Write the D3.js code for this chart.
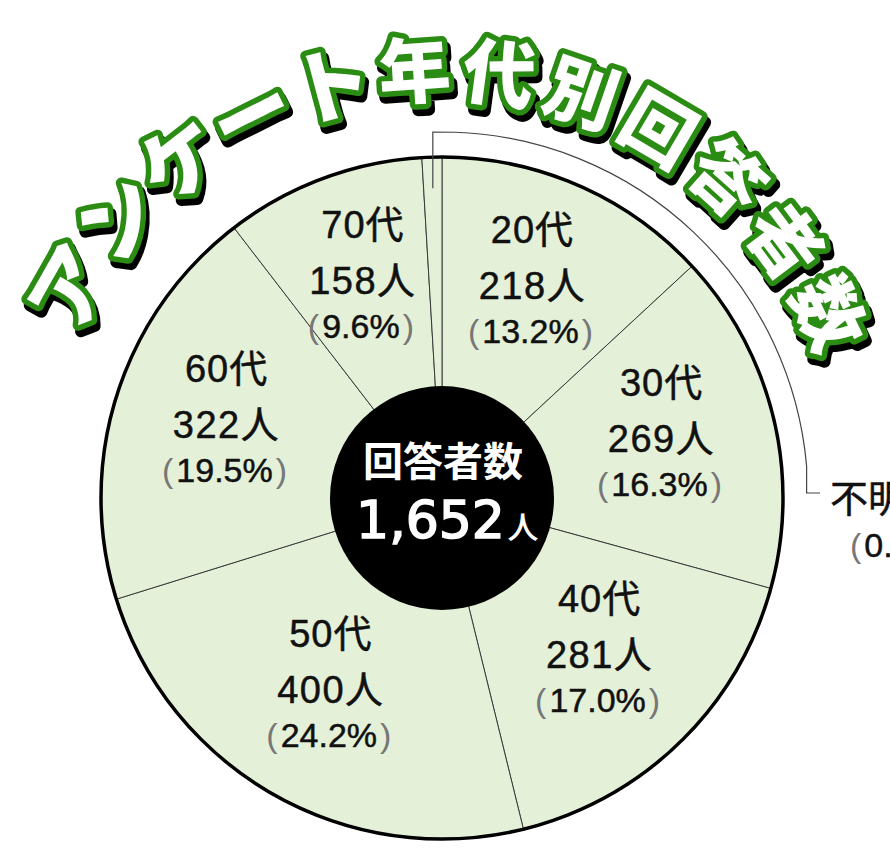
<!DOCTYPE html>
<html>
<head>
<meta charset="utf-8">
<script src="https://cdn.jsdelivr.net/npm/d3@7"></script>
<style>
  body { margin: 0; background: #fff; }
  svg { display: block; }
</style>
</head>
<body>
<svg id="vis"></svg>
<script>
// datos
const ages = ["20代", "30代", "40代", "50代", "60代", "70代", "不明"];
const counts = [218, 269, 281, 400, 322, 158, 4];
const titleText = "アンケート年代別回答者数";
const centerLabel = "回答者数";
const unitLabel = "人";

const WIDTH = 890;
const HEIGHT = 855;
const CX = 442;
const CY = 498;
const R = 341;
const R_INNER = 112;
const MIN_SHARE = 0.0095; // la porción "不明" se dibuja un poco más ancha

const FILL = "#e4f1d8";
const GREEN = "#2b8c14";
const LABEL_FONT = "'Liberation Sans', 'Noto Sans CJK JP', sans-serif";
const CJK_FONT = "'Noto Sans CJK JP', sans-serif";

const svg = d3.select("#vis")
    .attr("width", WIDTH)
    .attr("height", HEIGHT);

svg.append("rect")
    .attr("width", WIDTH)
    .attr("height", HEIGHT)
    .attr("fill", "#fff");

const data = ages.map((a, i) => ({ age: a, count: counts[i] }));
const total = d3.sum(counts);

const pie = d3.pie()
    .sort(null)
    .value(d => Math.max(d.count, total * MIN_SHARE));
const arcs = pie(data);

const arc = d3.arc().innerRadius(0).outerRadius(R);
const labelArc = d3.arc().innerRadius(226).outerRadius(226);
const leaderArc = d3.arc().innerRadius(310).outerRadius(310);

const g = svg.append("g").attr("transform", `translate(${CX},${CY})`);

// porciones
g.selectAll("path.slice")
    .data(arcs)
    .join("path")
    .attr("class", "slice")
    .attr("d", arc)
    .attr("fill", FILL)
    .attr("stroke", "#3a3a3a")
    .attr("stroke-width", 1);

// borde exterior
g.append("circle")
    .attr("r", R)
    .attr("fill", "none")
    .attr("stroke", "#000")
    .attr("stroke-width", 3.5);

// etiquetas de cada porción (menos "不明")
const fmt = d => (d.data.count / total * 100).toFixed(1);

const labels = g.selectAll("g.lbl")
    .data(arcs.filter(d => d.data.age !== "不明"))
    .join("g")
    .attr("class", "lbl")
    .attr("transform", d => `translate(${labelArc.centroid(d)})`)
    .attr("font-family", LABEL_FONT)
    .attr("text-anchor", "middle")
    .attr("fill", "#111")
    .attr("stroke", "#111")
    .attr("stroke-width", 0.5);

labels.append("text")
    .attr("y", -48)
    .attr("font-size", 38)
    .attr("letter-spacing", 1)
    .text(d => d.data.age);

labels.append("text")
    .attr("y", 8)
    .attr("font-size", 38)
    .attr("letter-spacing", 1.5)
    .text(d => d.data.count + unitLabel);

const pct = labels.append("text")
    .attr("y", 52)
    .attr("font-size", 34);
pct.append("tspan").attr("fill", "#777").attr("stroke", "none").attr("font-weight", 300).attr("dx", -2).text("(");
pct.append("tspan").attr("dx", 3).text(d => fmt(d) + "%");
pct.append("tspan").attr("fill", "#777").attr("stroke", "none").attr("font-weight", 300).attr("dx", 3).text(")");

// línea guía para "不明"
const unknown = arcs.find(d => d.data.age === "不明");
const start = leaderArc.centroid(unknown);
const LR = 366;
const a0 = Math.asin(13 / LR);
const a1 = 85 * Math.PI / 180;
const p = d3.path();
p.moveTo(start[0], start[1]);
p.lineTo(start[0], -LR);
p.lineTo(LR * Math.sin(a0), -LR * Math.cos(a0));
p.arc(0, 0, LR, a0 - Math.PI / 2, a1 - Math.PI / 2);
p.lineTo(LR * Math.sin(a1), -5);
p.lineTo(378, -5);
g.append("path")
    .attr("d", p.toString())
    .attr("fill", "none")
    .attr("stroke", "#444")
    .attr("stroke-width", 1.2);

const unk = g.append("g")
    .attr("font-family", LABEL_FONT)
    .attr("fill", "#111")
    .attr("stroke", "#111")
    .attr("stroke-width", 0.5);
unk.append("text")
    .attr("x", 388)
    .attr("y", 14)
    .attr("font-size", 38)
    .text(unknown.data.age + unknown.data.count + unitLabel);
const upct = unk.append("text")
    .attr("x", 408)
    .attr("y", 59)
    .attr("font-size", 34);
upct.append("tspan").attr("fill", "#777").attr("stroke", "none").attr("font-weight", 300).text("(");
upct.append("tspan").attr("dx", 3).text(fmt(unknown) + "%");
upct.append("tspan").attr("fill", "#777").attr("stroke", "none").attr("font-weight", 300).attr("dx", 3).text(")");

// círculo negro central
g.append("circle")
    .attr("r", R_INNER)
    .attr("fill", "#000");

g.append("text")
    .attr("x", 1)
    .attr("y", -22)
    .attr("text-anchor", "middle")
    .attr("font-family", CJK_FONT)
    .attr("font-weight", 700)
    .attr("font-size", 40)
    .attr("fill", "#fff")
    .text(centerLabel);

const tot = g.append("text")
    .attr("x", 5)
    .attr("y", 40)
    .attr("text-anchor", "middle")
    .attr("font-family", "'DejaVu Sans', sans-serif")
    .attr("font-size", 52)
    .attr("fill", "#fff")
    .attr("stroke", "#fff")
    .attr("stroke-width", 1.6);
tot.append("tspan").text(d3.format(",")(total));
tot.append("tspan")
    .attr("font-family", CJK_FONT)
    .attr("font-size", 30)
    .attr("stroke-width", 0.8)
    .attr("dx", 3)
    .text(unitLabel);

// título en arco
const chars = Array.from(titleText);
const angStart = -60.5, angStep = 11.36, TR = 433;
const title = svg.append("g").attr("transform", `translate(${CX},${CY})`);

const charPos = (c, i) => {
    const a = (angStart + i * angStep) * Math.PI / 180;
    return { c: c, x: TR * Math.sin(a), y: -TR * Math.cos(a), deg: angStart + i * angStep };
};
const titleData = chars.map(charPos);

function drawTitle(layer, dx, dy, fill, stroke, sw) {
    layer.selectAll(null)
        .data(titleData)
        .join("text")
        .attr("transform", d => `translate(${d.x + dx},${d.y + dy}) rotate(${d.deg})`)
        .attr("text-anchor", "middle")
        .attr("dominant-baseline", "central")
        .attr("font-family", CJK_FONT)
        .attr("font-weight", 900)
        .attr("font-size", d => /[\u30A0-\u30FF]/.test(d.c) ? 80 : 72)
        .attr("fill", fill)
        .attr("stroke", stroke)
        .attr("stroke-width", sw)
        .attr("stroke-linejoin", "round")
        .attr("paint-order", "stroke")
        .text(d => d.c);
}

drawTitle(title.append("g"), 3, 6, "#000", "#000", 12);
drawTitle(title.append("g"), 0, 0, "#fff", GREEN, 11);
</script>
</body>
</html>
